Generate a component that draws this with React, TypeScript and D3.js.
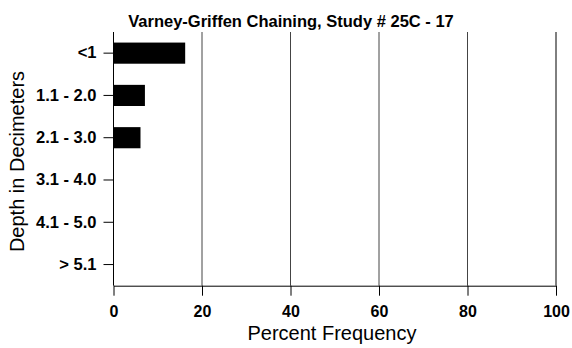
import React, { useEffect, useRef } from 'react';
import * as d3 from 'd3';

const categories = ['<1', '1.1 - 2.0', '2.1 - 3.0', '3.1 - 4.0', '4.1 - 5.0', '> 5.1'];
const percents = [16.2, 7.1, 6.1, 0, 0, 0];
const xTicks = [0, 20, 40, 60, 80, 100];

const App: React.FC = () => {
  const svgRef = useRef<SVGSVGElement>(null);

  useEffect(() => {
    if (!svgRef.current) return;
    const svg = d3.select(svgRef.current);
    svg.selectAll('*').remove();

    const width = 572;
    const height = 348;
    const margin = { top: 32, left: 113.5 };
    const innerW = 556 - margin.left;
    const innerH = 285.7 - margin.top;
    const font = 'Arial, "Liberation Sans", sans-serif';

    svg.attr('width', width).attr('height', height);

    const g = svg.append('g').attr('transform', `translate(${margin.left},${margin.top})`);

    const x = d3.scaleLinear().domain([0, 100]).range([0, innerW]);
    const y = d3.scaleBand<string>().domain(categories).range([0, innerH]).paddingInner(0.5).paddingOuter(0.25);

    // vertical grid lines
    g.selectAll('line.grid')
      .data(xTicks.filter(t => t > 0))
      .enter()
      .append('line')
      .attr('class', 'grid')
      .attr('x1', d => x(d))
      .attr('x2', d => x(d))
      .attr('y1', 0)
      .attr('y2', innerH)
      .attr('stroke', (d) => (d === 100 ? '#000' : '#444'))
      .attr('stroke-width', 1);

    // bars
    g.selectAll('rect.bar')
      .data(categories.map((c, i) => ({ c, v: percents[i] })))
      .enter()
      .append('rect')
      .attr('class', 'bar')
      .attr('x', 0)
      .attr('y', d => y(d.c) as number)
      .attr('width', d => x(d.v))
      .attr('height', y.bandwidth())
      .attr('fill', '#000');

    // x axis
    const xAxis = g.append('g')
      .attr('transform', `translate(0,${innerH})`)
      .call(d3.axisBottom(x).tickValues(xTicks).tickSize(10).tickSizeOuter(0).tickPadding(10));
    xAxis.select('.domain').attr('stroke', '#000');
    xAxis.selectAll('.tick line').attr('stroke', '#000');
    xAxis.selectAll('text')
      .attr('font-family', font)
      .attr('font-size', 16)
      .attr('font-weight', 'bold')
      .attr('fill', '#000');

    // y axis
    const yAxis = g.append('g')
      .call(d3.axisLeft(y).tickSize(10).tickSizeOuter(0).tickPadding(7));
    yAxis.select('.domain').attr('stroke', '#000').attr('d', `M0,0V${innerH}`);
    yAxis.selectAll('.tick line').attr('stroke', '#000');
    yAxis.selectAll('text')
      .attr('font-family', font)
      .attr('font-size', 16.5)
      .attr('font-weight', 'bold')
      .attr('fill', '#000');

    // title
    svg.append('text')
      .attr('x', 291)
      .attr('y', 27)
      .attr('text-anchor', 'middle')
      .attr('font-family', font)
      .attr('font-size', 16.5)
      .attr('font-weight', 'bold')
      .text('Varney-Griffen Chaining, Study # 25C - 17');

    // axis titles
    svg.append('text')
      .attr('x', 332)
      .attr('y', 340)
      .attr('text-anchor', 'middle')
      .attr('font-family', font)
      .attr('font-size', 20)
      .text('Percent Frequency');

    svg.append('text')
      .attr('transform', `translate(23.5,161.5) rotate(-90)`)
      .attr('text-anchor', 'middle')
      .attr('font-family', font)
      .attr('font-size', 20)
      .text('Depth in Decimeters');
  }, []);

  return (
    <div style={{ position: 'absolute', left: 0, top: 0 }}>
      <svg ref={svgRef}></svg>
    </div>
  );
};

export default App;
